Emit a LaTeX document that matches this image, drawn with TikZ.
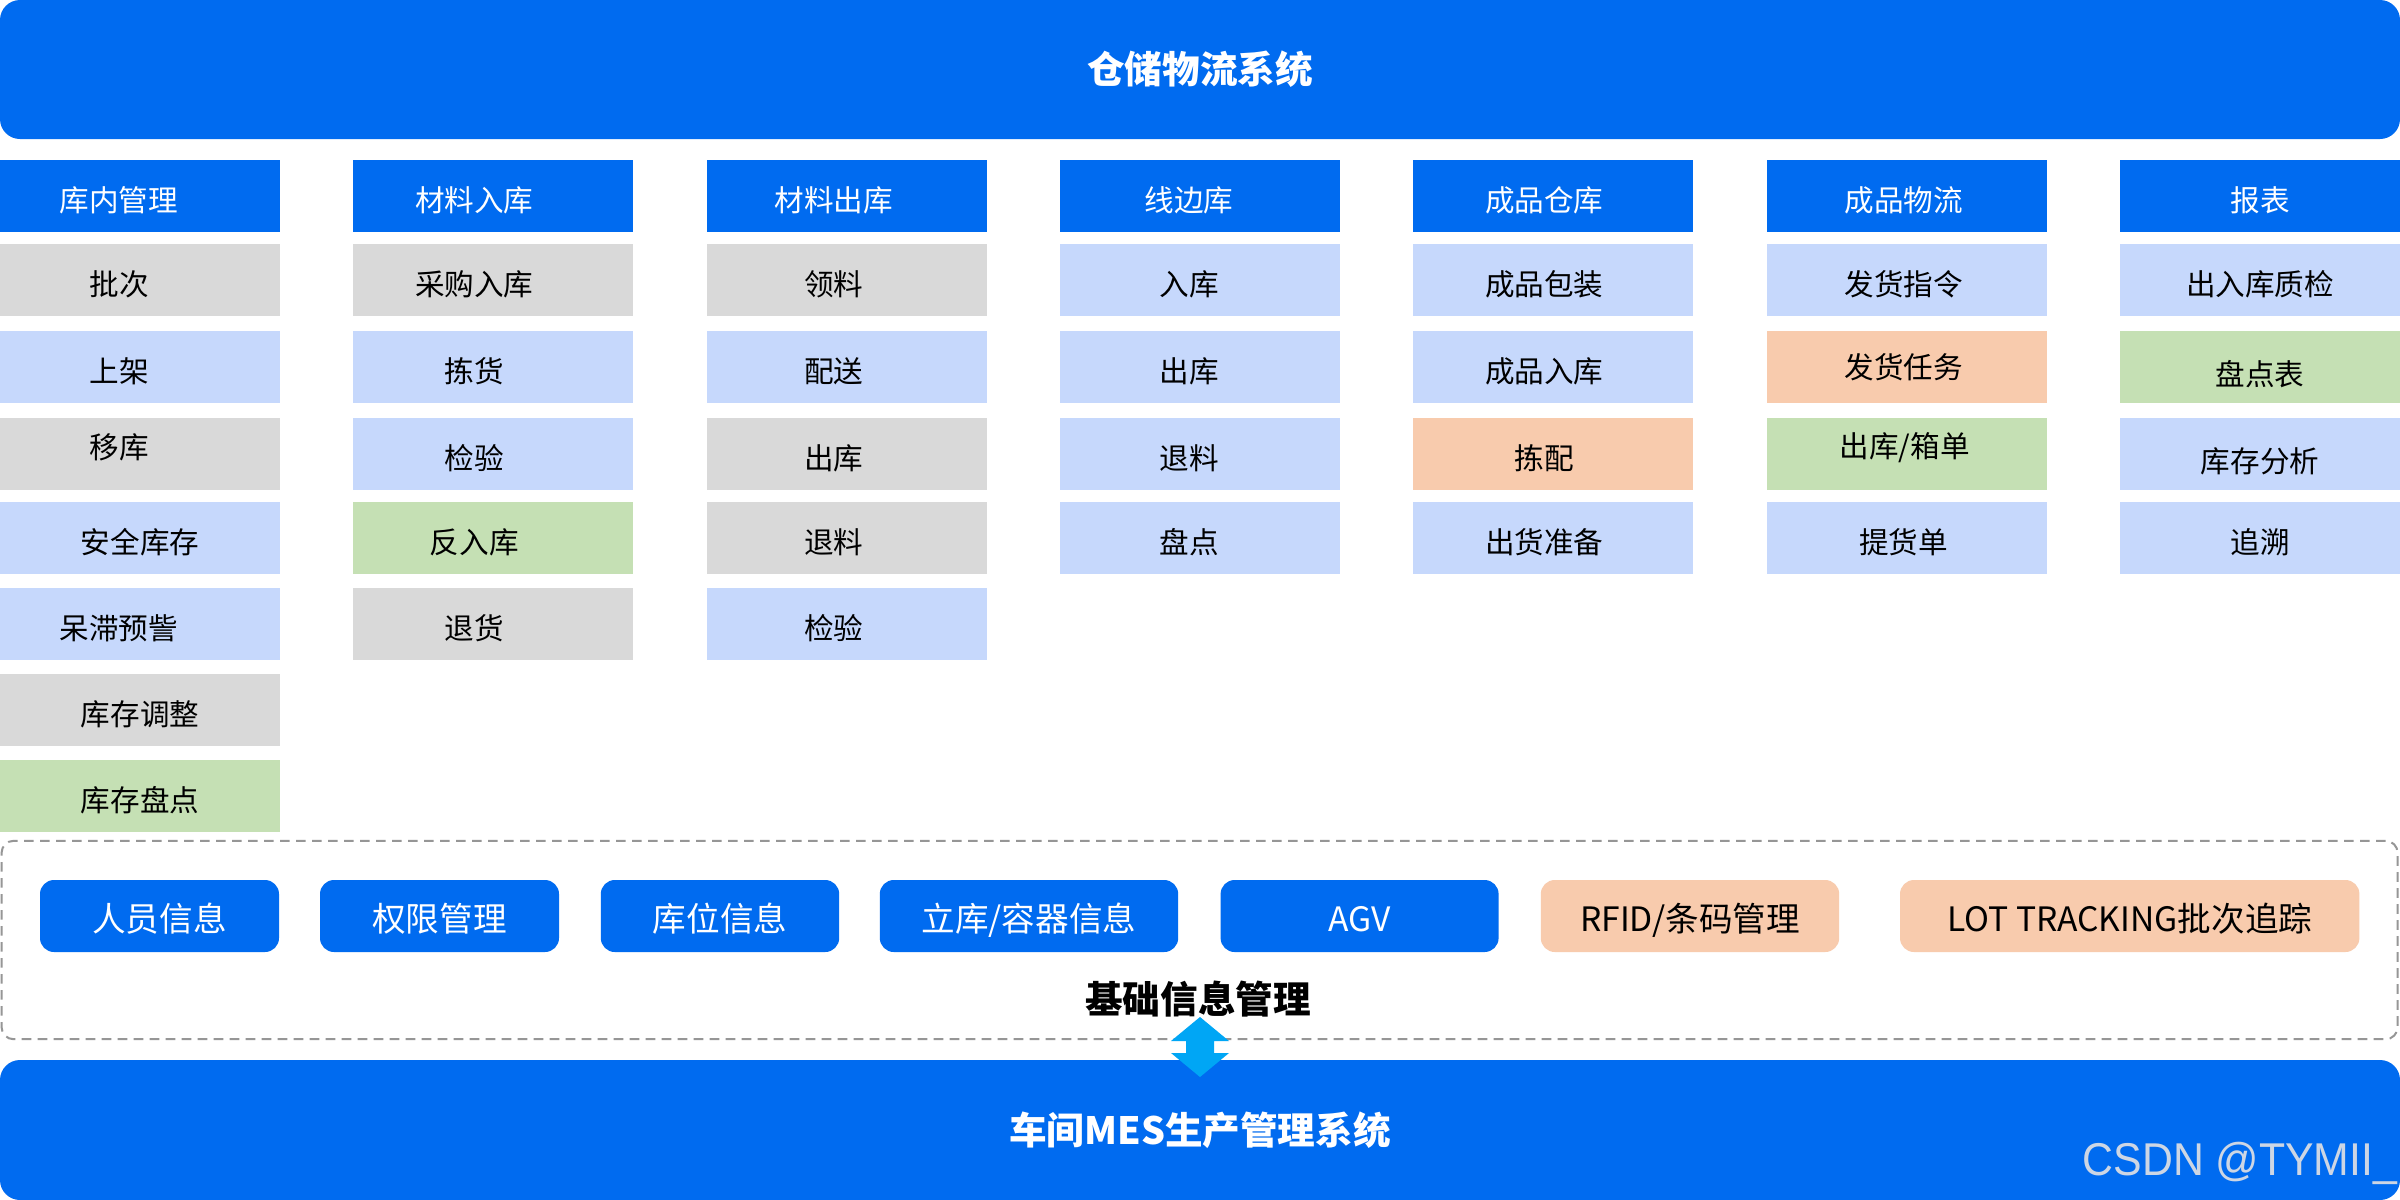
\documentclass[tikz,border=0pt]{standalone}
\usepackage{fontspec}
\setmainfont{Noto Sans CJK SC}
\newfontfamily\wmfont[FakeStretch=0.93]{Liberation Sans}
\usetikzlibrary{positioning}
\definecolor{mblue}{RGB}{0,107,240}
\definecolor{lblue}{RGB}{198,216,252}
\definecolor{lgray}{RGB}{217,217,217}
\definecolor{lgreen}{RGB}{197,224,180}
\definecolor{peach}{RGB}{248,203,173}
\definecolor{acyan}{RGB}{0,166,245}
\definecolor{dashgray}{RGB}{150,150,150}
\definecolor{wmcol}{RGB}{205,214,228}
\newcommand{\mkcell}[7]{%
  \node[cellbox, fill=#4] (#1) at ({#2*353.333+140},{#3+36}) {};
  \node[celltext] (#1-t) at ([shift={(#6,#7)}]#1.center) {#5};
}
\newcommand{\mkhead}[4]{%
  \node[cellbox, fill=mblue] (#1) at ({#2*353.333+140},{160+36}) {};
  \node[celltext, text=white] (#1-t) at ([shift={(#4,0)}]#1.center) {#3};
}
\begin{document}
\begin{tikzpicture}[x=0.25pt,y=-0.25pt,
  cellbox/.style={rectangle, draw=none, minimum width=70pt, minimum height=18pt, inner sep=0pt, outer sep=0pt},
  celltext/.style={inner sep=0pt, text height=0.88em, text depth=0.12em, font=\fontsize{7.4pt}{8pt}\selectfont, text=black},
  bigbar/.style={rectangle, fill=mblue, rounded corners=5pt, minimum width=600pt, inner sep=0pt, outer sep=0pt, text=white, font=\fontsize{9.4pt}{10pt}\selectfont\bfseries},
  pill/.style={rectangle, rounded corners=3.5pt, minimum height=18pt, inner sep=0pt, outer sep=0pt, text height=0.88em, text depth=0.12em, font=\fontsize{8.4pt}{9pt}\selectfont},
  bluepill/.style={pill, fill=mblue, text=white},
  peachpill/.style={pill, fill=peach, text=black},
  basebox/.style={rectangle, draw=dashgray, dash pattern=on 2.4pt off 1.6pt, line width=0.5pt, rounded corners=3pt, minimum width=599pt, minimum height=49.6pt, inner sep=0pt, outer sep=0pt}
]
\useasboundingbox (0,0) rectangle (2400,1200);
\fill[white] (0,0) rectangle (2400,1200);

% top bar
\node[bigbar, minimum height=34.75pt] (top) at (1200,69.5) {仓储物流系统};

% headers
\mkhead{h1}{0}{库内管理}{-21}
\mkhead{h2}{1}{材料入库}{-19}
\mkhead{h3}{2}{材料出库}{-13}
\mkhead{h4}{3}{线边库}{-11}
\mkhead{h5}{4}{成品仓库}{-9}
\mkhead{h6}{5}{成品物流}{-3}
\mkhead{h7}{6}{报表}{0}

% column 1
\mkcell{a1}{0}{244}{lgray}{批次}{-21}{0}
\mkcell{a2}{0}{331}{lblue}{上架}{-21}{0}
\mkcell{a3}{0}{418}{lgray}{移库}{-21}{-11}
\mkcell{a4}{0}{502}{lblue}{安全库存}{0}{0}
\mkcell{a5}{0}{588}{lblue}{呆滞预訾}{-21}{0}
\mkcell{a6}{0}{674}{lgray}{库存调整}{0}{0}
\mkcell{a7}{0}{760}{lgreen}{库存盘点}{0}{0}

% column 2
\mkcell{b1}{1}{244}{lgray}{采购入库}{-19}{0}
\mkcell{b2}{1}{331}{lblue}{拣货}{-19}{0}
\mkcell{b3}{1}{418}{lblue}{检验}{-19}{0}
\mkcell{b4}{1}{502}{lgreen}{反入库}{-19}{0}
\mkcell{b5}{1}{588}{lgray}{退货}{-19}{0}

% column 3
\mkcell{c1}{2}{244}{lgray}{领料}{-13}{0}
\mkcell{c2}{2}{331}{lblue}{配送}{-13}{0}
\mkcell{c3}{2}{418}{lgray}{出库}{-13}{0}
\mkcell{c4}{2}{502}{lgray}{退料}{-13}{0}
\mkcell{c5}{2}{588}{lblue}{检验}{-13}{0}

% column 4
\mkcell{d1}{3}{244}{lblue}{入库}{-11}{0}
\mkcell{d2}{3}{331}{lblue}{出库}{-11}{0}
\mkcell{d3}{3}{418}{lblue}{退料}{-11}{0}
\mkcell{d4}{3}{502}{lblue}{盘点}{-11}{0}

% column 5
\mkcell{e1}{4}{244}{lblue}{成品包装}{-9}{0}
\mkcell{e2}{4}{331}{lblue}{成品入库}{-9}{0}
\mkcell{e3}{4}{418}{peach}{拣配}{-9}{0}
\mkcell{e4}{4}{502}{lblue}{出货准备}{-9}{0}

% column 6
\mkcell{f1}{5}{244}{lblue}{发货指令}{-3}{0}
\mkcell{f2}{5}{331}{peach}{发货任务}{-3}{-4}
\mkcell{f3}{5}{418}{lgreen}{出库/箱单}{-2}{-12}
\mkcell{f4}{5}{502}{lblue}{提货单}{-3}{0}

% column 7
\mkcell{g1}{6}{244}{lblue}{出入库质检}{0}{0}
\mkcell{g2}{6}{331}{lgreen}{盘点表}{0}{3}
\mkcell{g3}{6}{418}{lblue}{库存分析}{0}{3}
\mkcell{g4}{6}{502}{lblue}{追溯}{0}{0}

% base information box
\node[basebox] (base) at (1199.6,940) {};
\node[bluepill, minimum width=59.75pt] (p1) at (159.5,916) {人员信息};
\node[bluepill, minimum width=59.75pt] (p2) at (439.5,916) {权限管理};
\node[bluepill, minimum width=59.6pt] (p3) at (720,916) {库位信息};
\node[bluepill, minimum width=74.6pt] (p4) at (1029,916) {立库/容器信息};
\node[bluepill, minimum width=69.5pt] (p5) at (1359.6,916) {AGV};
\node[peachpill, minimum width=74.6pt] (p6) at (1690,916) {RFID/条码管理};
\node[peachpill, minimum width=114.85pt] (p7) at (2129.7,916) {LOT TRACKING批次追踪};
\node[inner sep=0pt, text height=0.88em, text depth=0.12em, font=\fontsize{9.4pt}{10pt}\selectfont\bfseries, text=black] (basetitle) at (1198,998) {基础信息管理};

% bottom bar
\node[bigbar, minimum height=35pt] (mes) at (1200,1130) {车间MES生产管理系统};

% double arrow between base box and MES bar
\coordinate (arr) at (1200,1047);
\fill[acyan] (1200,1017) -- (1229,1041) -- (1214,1041) -- (1214,1053) -- (1229,1053)
  -- (1200,1077) -- (1171,1053) -- (1186,1053) -- (1186,1041) -- (1171,1041) -- cycle;

% watermark
\node[anchor=base east, inner sep=0pt, text=wmcol, font=\wmfont\fontsize{11.5pt}{12pt}\selectfont] (wm) at (2398,1175) {CSDN @TYMII\_};
\end{tikzpicture}
\end{document}
